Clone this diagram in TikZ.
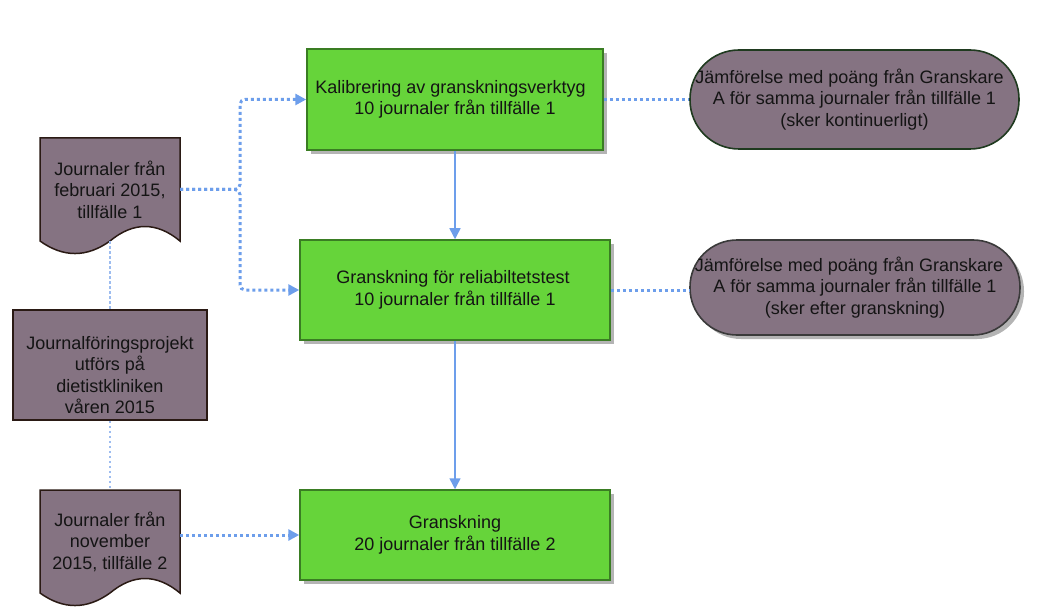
\documentclass[tikz,border=0pt]{standalone}
\usepackage{fontspec}
\setmainfont{Liberation Sans}
\usetikzlibrary{arrows.meta,shadows}
\definecolor{gfill}{HTML}{66D43A}
\definecolor{gline}{HTML}{3A7D23}
\definecolor{pfill}{HTML}{857382}
\definecolor{bline}{HTML}{2A1A14}
\definecolor{sonelinec}{HTML}{1F3A1F}
\definecolor{stwolinec}{HTML}{3A3A3A}
\definecolor{conn}{HTML}{6D9EEB}
\definecolor{connlight}{HTML}{9DBCEF}
\definecolor{txt}{HTML}{141414}
\definecolor{shad}{HTML}{B4B4B4}
\newcommand\mydocpath{(40,138) -- (180,138) -- (180,241) .. controls (156.7,221.7) and (133.3,221.7) .. (110,241) .. controls (86.7,257.7) and (63.3,257.7) .. (40,241) -- cycle}
\begin{document}
\begin{tikzpicture}[x=1pt,y=-1pt,
  every node/.style={font=\fontsize{18}{21.5}\selectfont, text=txt, align=center, inner sep=0pt},
  myshadow/.style={drop shadow={shadow xshift=4pt, shadow yshift=-4pt, fill=shad, opacity=1}},
  greenbox/.style={draw=gline, fill=gfill, line width=1.5pt, myshadow},
  stadium/.style={fill=pfill, line width=1.6pt},
  plainbox/.style={draw=bline, fill=pfill, line width=1.5pt},
  docbox/.style={draw=none},
  dotline/.style={draw=conn, line width=3pt, dash pattern=on 3pt off 3pt},
  lightdot/.style={draw=connlight, line width=2.2pt, dash pattern=on 2.5pt off 2.5pt},
  solidline/.style={draw=conn, line width=1.5pt},
  tip/.style={-{Triangle[length=11pt,width=11pt]}}
]
\useasboundingbox (0,0) rectangle (1040,612);

% documents
\filldraw[fill=pfill, draw=bline, line width=1.5pt] \mydocpath;
\begin{scope}[shift={(0,352)}]
\filldraw[fill=pfill, draw=bline, line width=1.5pt] \mydocpath;
\end{scope}
\node[docbox, minimum width=140pt, minimum height=103pt] (doc1) at (110,189.5) {Journaler från\\februari 2015,\\tillfälle 1};
\node[docbox, minimum width=140pt, minimum height=103pt] (doc2) at (110,541.5) {Journaler från\\november\\2015, tillfälle 2};

% project box
\node[plainbox, minimum width=194pt, minimum height=110pt] (proj) at (110,365) {};
\node[yshift=-10pt] (projtext) at (proj.center) {Journalföringsprojekt\\utförs på\\dietistkliniken\\våren 2015};

% green boxes
\node[greenbox, minimum width=296pt, minimum height=101pt] (A) at (455,99.5) {Kalibrering av granskningsverktyg\hspace*{9pt}\\10 journaler från tillfälle 1};
\node[greenbox, minimum width=310pt, minimum height=100pt] (B) at (455,290) {Granskning för reliabiltetstest\hspace*{4pt}\\10 journaler från tillfälle 1};
\node[greenbox, minimum width=310pt, minimum height=90pt] (C) at (455,535) {Granskning\\20 journaler från tillfälle 2};

% stadiums
\node[stadium, draw=sonelinec, rounded corners=49pt, minimum width=329pt, minimum height=99pt] (S1) at (854.5,99.5) {Jämförelse med poäng från Granskare\hspace*{10pt}\\A för samma journaler från tillfälle 1\\(sker kontinuerligt)};
\node[stadium, draw=stwolinec, myshadow, rounded corners=47pt, minimum width=330pt, minimum height=95pt] (S2) at (855,287.5) {Jämförelse med poäng från Granskare\hspace*{12pt}\\A för samma journaler från tillfälle 1\\(sker efter granskning)};

% connectors
\coordinate (j1) at (240,189.5);
\draw[dotline, tip, rounded corners=5pt] (doc1.east) -- (j1) |- (A.west);
\draw[dotline, tip, rounded corners=5pt] (doc1.east) -- (j1) |- (B.west);
\draw[dotline] (A.east) -- (S1.west);
\draw[dotline] (B.east) -- (B.east -| S2.west);
\draw[lightdot] (doc1.south) -- (proj.north);
\draw[lightdot] (proj.south) -- (doc2.north);
\draw[dotline, tip] (doc2.east |- C.west) -- (C.west);
\draw[solidline, tip] (A.south) -- (B.north);
\draw[solidline, tip] (B.south) -- (C.north);
\end{tikzpicture}
\end{document}
